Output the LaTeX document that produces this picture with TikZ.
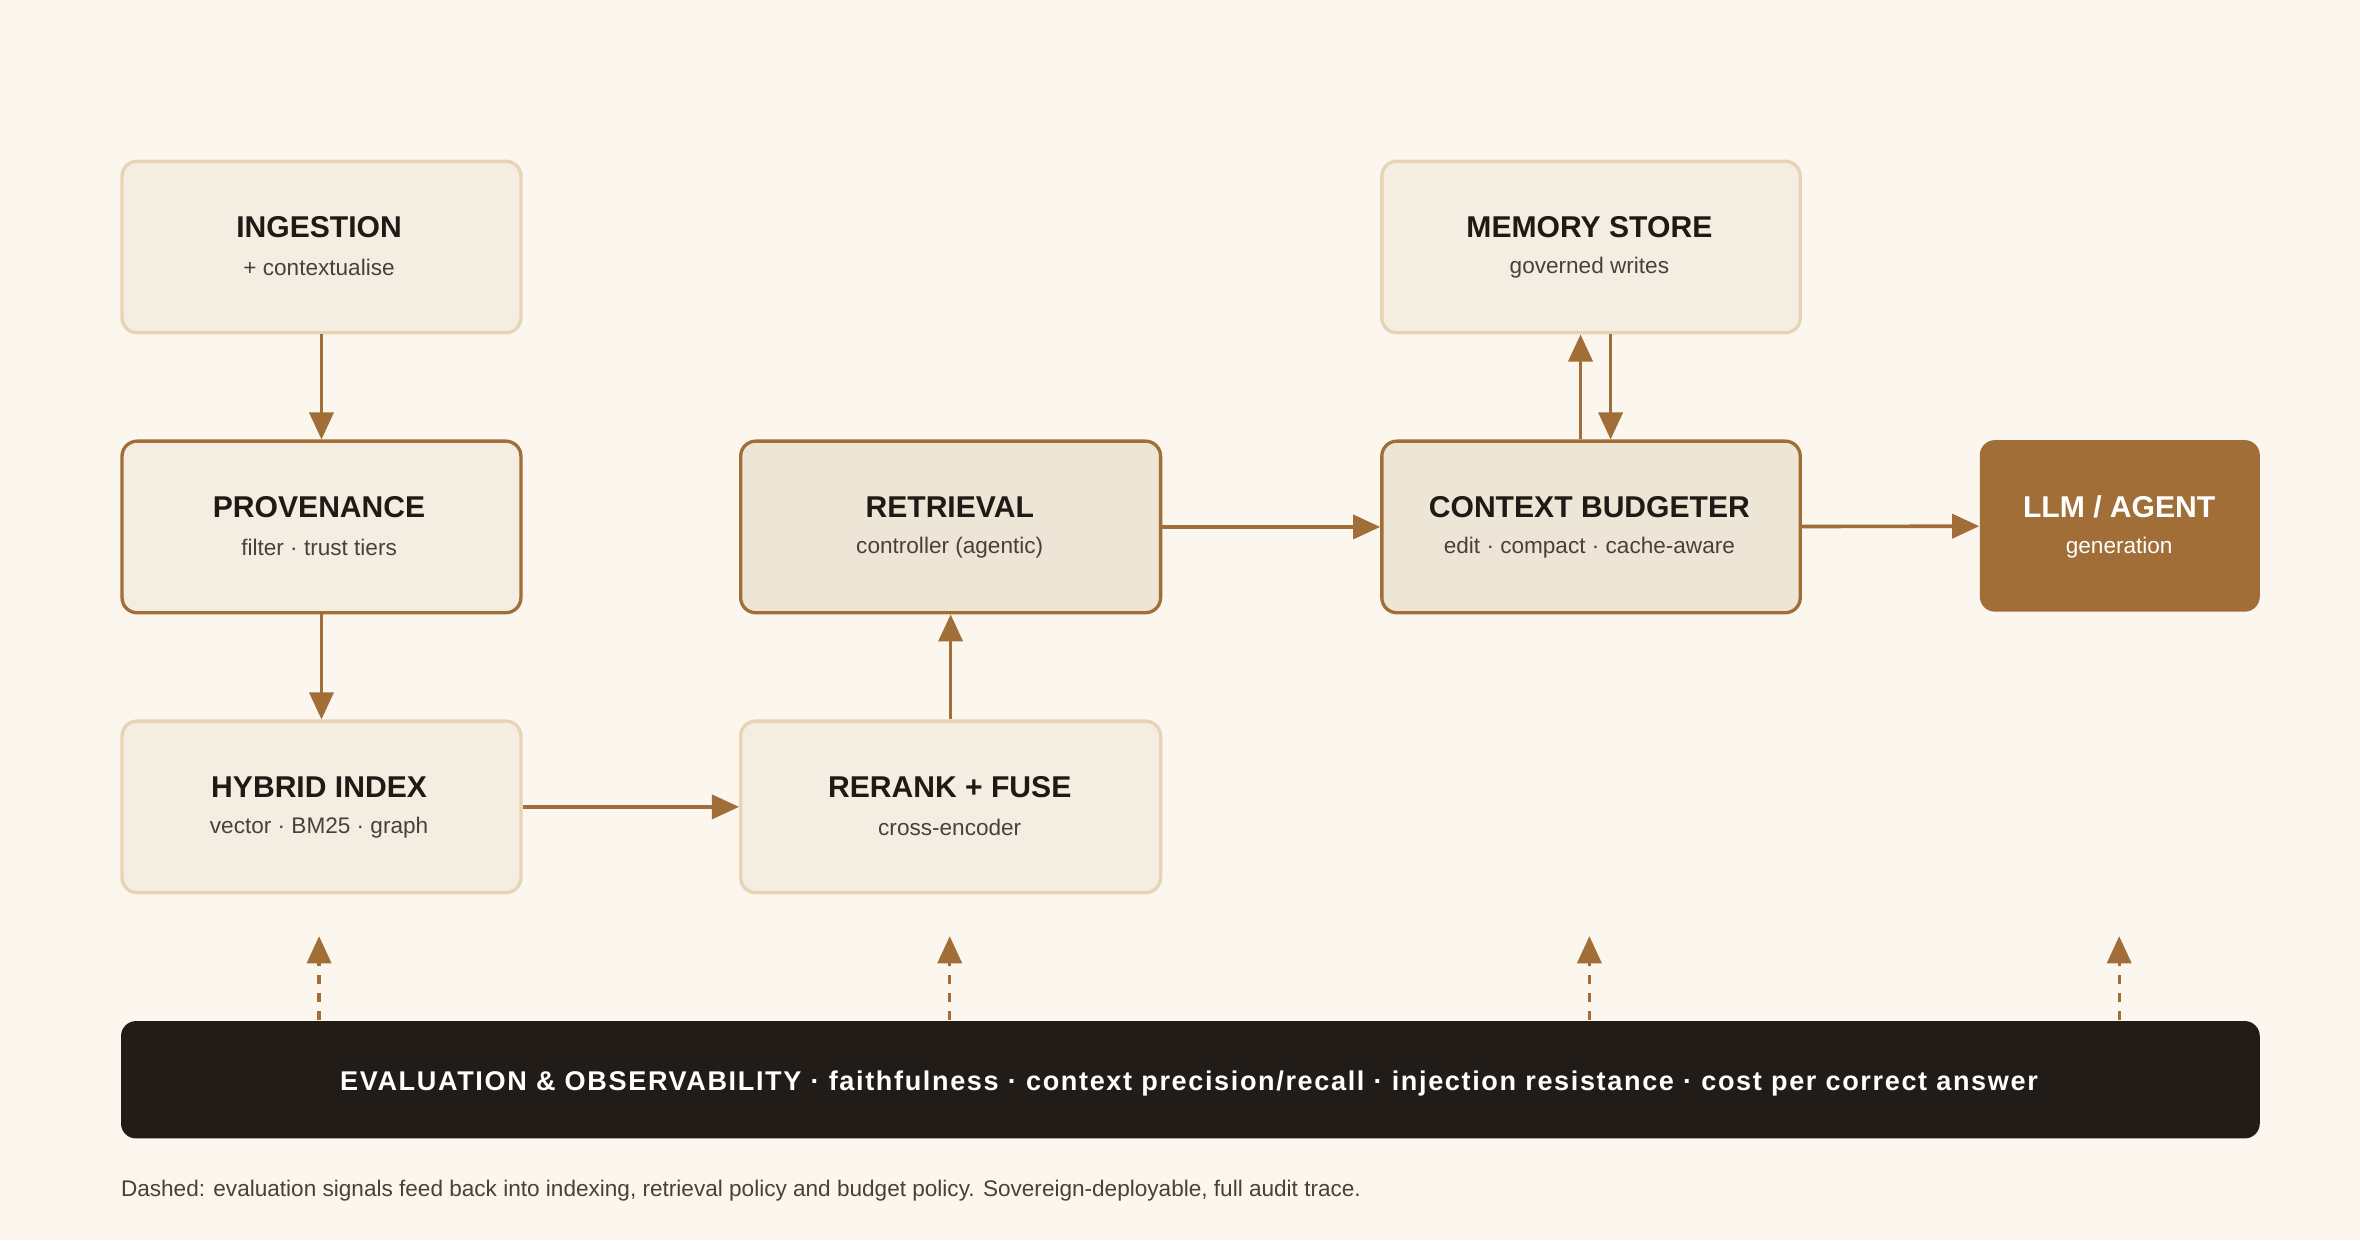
\documentclass[tikz,border=0pt]{standalone}
\usepackage{fontspec}
\setmainfont{Liberation Sans}
\newfontfamily\barfont[LetterSpace=6]{Liberation Sans}
\usetikzlibrary{arrows.meta}
\definecolor{bg}{HTML}{FBF6EE}
\definecolor{lightfill}{HTML}{F4EEE2}
\definecolor{midfill}{HTML}{EDE5D6}
\definecolor{lightedge}{HTML}{E6D4B5}
\definecolor{brown}{HTML}{A06E36}
\definecolor{dark}{HTML}{221C18}
\definecolor{txt}{HTML}{1F1A16}
\definecolor{subtxt}{HTML}{4A4038}
\begin{document}
\begin{tikzpicture}[x=0.5pt,y=-0.5pt,
 box/.style={draw=lightedge,fill=lightfill,line width=1.1pt,rounded corners=5pt},
 boxd/.style={draw=brown,fill=lightfill,line width=1.1pt,rounded corners=5pt},
 boxm/.style={draw=brown,fill=midfill,line width=1.1pt,rounded corners=5pt},
 ttl/.style={font=\bfseries\fontsize{10}{12}\selectfont,text=txt},
 sub/.style={font=\fontsize{7.5}{9}\selectfont,text=subtxt},
 arr/.style={draw=brown,line width=1.2pt,-{Triangle[length=9pt,width=8pt]}},
 darr/.style={draw=brown,line width=1.1pt,dash pattern=on 3pt off 3pt,-{Triangle[length=9pt,width=8pt]}}]
\fill[bg] (0,0) rectangle (1568,824);
\useasboundingbox (0,0) rectangle (1568,824);
\newcommand{\mybox}[7]{% name style x1 y1 x2 y2 title/sub
 \node[#2,minimum width={(#5-#3)*0.5pt},minimum height={(#6-#4)*0.5pt},anchor=north west,inner sep=0] (#1) at (#3,#4) {};
 #7}
\mybox{ing}{box}{80}{106}{345}{220}{\node[ttl] at (212,151){INGESTION};\node[sub] at (212,178){+ contextualise};}
\mybox{prov}{boxd}{80}{292}{345}{406}{\node[ttl] at (212,337){PROVENANCE};\node[sub] at (212,364){filter · trust tiers};}
\mybox{hyb}{box}{80}{478}{345}{592}{\node[ttl] at (212,523){HYBRID INDEX};\node[sub] at (212,550){vector · BM25 · graph};}
\mybox{ret}{boxm}{491}{292}{770}{406}{\node[ttl] at (631,337){RETRIEVAL};\node[sub] at (631,364){controller (agentic)};}
\mybox{rr}{box}{491}{478}{770}{592}{\node[ttl] at (631,523){RERANK + FUSE};\node[sub] at (631,550){cross-encoder};}
\mybox{mem}{box}{917}{106}{1195}{220}{\node[ttl] at (1056,151){MEMORY STORE};\node[sub] at (1056,178){governed writes};}
\mybox{ctx}{boxm}{917}{292}{1195}{406}{\node[ttl] at (1056,337){CONTEXT BUDGETER};\node[sub] at (1056,364){edit · compact · cache-aware};}
\node[fill=brown,rounded corners=5pt,minimum width=93pt,minimum height=57pt,anchor=north west,inner sep=0] (llm) at (1315,292) {};
\node[ttl,text=white] at (1408,337){LLM / AGENT};
\node[sub,text=white] at (1408,364){generation};
\node[fill=dark,rounded corners=5pt,minimum width=710.5pt,minimum height=39pt,anchor=north west,inner sep=0] (bar) at (80,678) {};
\node[font=\barfont\bfseries\fontsize{9}{11}\selectfont,text=white] at (790,720) {EVALUATION \& OBSERVABILITY · faithfulness · context precision/recall · injection resistance · cost per correct answer};
\node[anchor=west,font=\fontsize{7.5}{9}\selectfont,text=subtxt,inner sep=0] (cap) at (80,791) {Dashed: evaluation signals feed back into indexing, retrieval policy and budget policy. Sovereign-deployable, full audit trace.};
\draw[arr] (ing) -- (prov);
\draw[arr] (prov) -- (hyb);
\draw[arr] (hyb) -- (rr);
\draw[arr] (rr) -- (ret);
\draw[arr] (ret) -- (ctx);
\draw[arr] (ctx) -- (llm);
\draw[arr] ([xshift=-3.5pt]ctx.north) -- ([xshift=-3.5pt]mem.south);
\draw[arr] ([xshift=6.5pt]mem.south) -- ([xshift=6.5pt]ctx.north);
\foreach \n/\x in {a/212,b/631,c/1056,d/1408}{
 \coordinate (e\n) at (\x,622);
 \draw[darr] (bar.north -| e\n) -- (e\n);
}
\end{tikzpicture}
\end{document}
